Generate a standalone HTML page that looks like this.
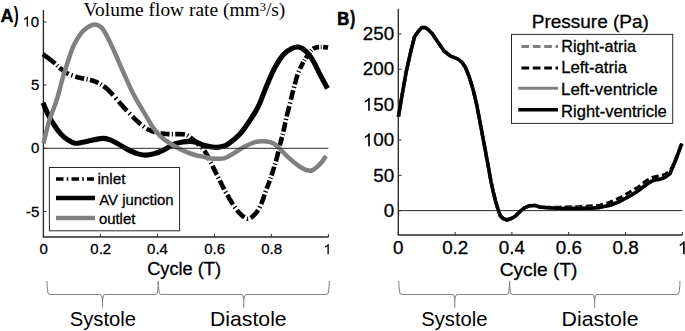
<!DOCTYPE html>
<html><head><meta charset="utf-8">
<style>
html,body{margin:0;padding:0;background:#fff;}
body{width:685px;height:331px;overflow:hidden;font-family:"Liberation Sans",sans-serif;}
svg{display:block;}
</style></head>
<body>
<svg width="685" height="331" viewBox="0 0 685 331">
<rect width="685" height="331" fill="#fff"/>
<path d="M43.4,10 V237 H328.6" fill="none" stroke="#2a2a2a" stroke-width="1.35"/>
<path d="M43.4,22.0 H46.5" stroke="#2a2a2a" stroke-width="1"/>
<path d="M43.4,85.0 H46.5" stroke="#2a2a2a" stroke-width="1"/>
<path d="M43.4,148.3 H46.5" stroke="#2a2a2a" stroke-width="1"/>
<path d="M43.4,211.5 H46.5" stroke="#2a2a2a" stroke-width="1"/>
<path d="M43.4,237 V234" stroke="#2a2a2a" stroke-width="1"/>
<path d="M100.4,237 V234" stroke="#2a2a2a" stroke-width="1"/>
<path d="M157.4,237 V234" stroke="#2a2a2a" stroke-width="1"/>
<path d="M214.4,237 V234" stroke="#2a2a2a" stroke-width="1"/>
<path d="M271.4,237 V234" stroke="#2a2a2a" stroke-width="1"/>
<path d="M328.4,237 V234" stroke="#2a2a2a" stroke-width="1"/>
<path d="M43.00,54.20 L43.42,54.51 L43.87,54.85 L44.33,55.19 L44.76,55.52 L45.23,55.86 L45.64,56.16 L46.06,56.48 L46.50,56.80 L46.95,57.13 L47.41,57.48 L47.87,57.82 L48.34,58.17 L48.81,58.53 L49.28,58.88 L49.75,59.24 L50.21,59.59 L50.67,59.94 L51.11,60.28 L51.55,60.61 L51.96,60.93 L52.36,61.25 L52.81,61.61 L53.23,61.95 L53.67,62.31 L54.11,62.68 L54.54,63.05 L54.94,63.42 L55.18,63.63 M56.90,65.26 L57.32,65.68 L57.72,66.06 M59.47,67.66 L59.92,68.04 L60.32,68.36 L60.71,68.68 L61.11,69.00 L61.50,69.32 L61.90,69.64 L62.30,69.95 L62.70,70.27 L63.11,70.58 L63.51,70.88 L63.92,71.18 L64.33,71.48 L64.74,71.77 L65.16,72.05 L65.58,72.33 L66.00,72.59 L66.51,72.91 L67.03,73.20 L67.47,73.44 L67.92,73.68 L68.39,73.90 L68.65,74.03 M71.26,75.10 L71.80,75.29 L72.28,75.47 L72.55,75.56 M75.22,76.47 L75.75,76.65 L76.23,76.81 L76.73,76.97 L77.25,77.12 L77.75,77.26 L78.30,77.40 L78.85,77.53 L79.39,77.66 L79.90,77.78 L80.48,77.92 L81.01,78.05 L81.54,78.17 L82.10,78.29 L82.62,78.40 L83.16,78.51 L83.72,78.62 L84.22,78.72 M86.52,79.17 L87.11,79.28 L87.63,79.39 M89.91,79.90 L90.44,80.03 L90.97,80.16 L91.49,80.30 L92.01,80.44 L92.51,80.59 L93.00,80.74 L93.48,80.90 L94.03,81.10 L94.59,81.31 L95.08,81.51 L95.55,81.71 L96.03,81.92 L96.50,82.13 L96.97,82.35 L97.43,82.57 L97.89,82.80 L98.34,83.04 L98.48,83.11 M100.50,84.25 L100.97,84.53 L101.45,84.83 M103.38,86.10 L103.87,86.44 L104.34,86.77 L104.81,87.11 L105.28,87.46 L105.70,87.78 L106.11,88.10 L106.52,88.44 L106.92,88.78 L107.32,89.13 L107.72,89.49 L108.11,89.85 L108.50,90.22 L108.89,90.59 L109.27,90.96 L109.64,91.33 L110.01,91.70 L110.37,92.08 L110.73,92.44 L111.07,92.81 L111.48,93.24 L111.88,93.67 L112.27,94.09 L112.65,94.49 L113.02,94.88 L113.28,95.16 M115.51,97.71 L115.85,98.16 L116.16,98.56 L116.48,98.98 L116.51,99.01 M118.67,101.62 L119.04,102.05 L119.38,102.43 L119.71,102.82 L120.06,103.22 L120.41,103.62 L120.78,104.04 L121.15,104.46 L121.53,104.89 L121.92,105.33 L122.32,105.77 L122.66,106.15 L123.00,106.54 L123.36,106.93 L123.72,107.33 L124.09,107.73 L124.47,108.14 L124.85,108.55 L125.25,108.97 L125.65,109.40 L126.06,109.83 L126.48,110.27 L126.91,110.71 L127.01,110.81 M129.19,113.06 L129.58,113.46 L129.93,113.82 L130.25,114.15 M132.43,116.38 L132.81,116.77 L133.19,117.15 L133.58,117.54 L133.96,117.92 L134.34,118.31 L134.73,118.69 L135.11,119.07 L135.50,119.44 L135.88,119.82 L136.26,120.18 L136.64,120.55 L137.01,120.91 L137.39,121.26 L137.76,121.61 L138.19,122.01 L138.63,122.41 L139.05,122.79 L139.47,123.17 L139.88,123.52 L140.28,123.87 L140.67,124.19 L140.86,124.35 M143.15,126.17 L143.58,126.50 L144.00,126.80 L144.29,127.01 M146.73,128.63 L147.21,128.91 L147.69,129.18 L148.18,129.44 L148.67,129.70 L149.17,129.95 L149.69,130.19 L150.21,130.43 L150.76,130.66 L151.22,130.85 L151.69,131.03 L152.22,131.24 L152.75,131.43 L153.29,131.61 L153.84,131.79 L154.39,131.95 L154.95,132.11 L154.99,132.12 M157.19,132.67 L157.71,132.78 L158.27,132.89 M160.50,133.29 L161.01,133.37 L161.52,133.44 L162.03,133.52 L162.55,133.59 L163.08,133.65 L163.60,133.72 L164.13,133.78 L164.66,133.84 L165.20,133.90 L165.76,133.95 L166.34,134.00 L166.94,134.04 L167.45,134.07 L167.97,134.10 L168.50,134.12 L169.04,134.13 L169.53,134.15 M171.82,134.17 L172.36,134.17 L172.91,134.17 L172.93,134.17 M175.22,134.16 L175.76,134.15 L176.28,134.15 L176.80,134.14 L177.31,134.14 L177.90,134.14 L178.48,134.14 L179.03,134.14 L179.57,134.14 L180.08,134.15 L180.63,134.16 L181.15,134.18 L181.69,134.21 L182.23,134.24 L182.86,134.28 L183.40,134.32 L183.98,134.37 L184.55,134.43 L184.92,134.49 M187.23,135.30 L187.67,135.53 L188.16,135.82 L188.26,135.88 M190.22,137.34 L190.63,137.68 L191.04,138.02 L191.47,138.37 L191.91,138.73 L192.35,139.08 L192.78,139.42 L193.21,139.77 L193.64,140.13 L194.09,140.49 L194.53,140.87 L194.99,141.25 L195.37,141.58 L195.76,141.92 L196.15,142.27 L196.54,142.63 L196.94,142.99 L197.35,143.37 L197.75,143.76 L198.13,144.12 L198.52,144.50 L198.91,144.87 L199.21,145.14 M201.38,147.20 L201.81,147.63 L202.16,147.99 L202.40,148.24 M204.32,150.54 L204.66,151.01 L205.00,151.50 L205.28,151.93 L205.57,152.38 L205.85,152.84 L206.13,153.32 L206.41,153.81 L206.69,154.31 L206.97,154.82 L207.25,155.34 L207.53,155.87 L207.76,156.32 L207.99,156.78 L208.22,157.24 L208.45,157.70 L208.69,158.16 L208.92,158.63 L209.15,159.11 L209.38,159.58 L209.50,159.83 M210.67,162.24 L210.91,162.71 L211.14,163.18 L211.25,163.40 M212.46,165.80 L212.68,166.25 L212.91,166.70 L213.13,167.15 L213.36,167.60 L213.59,168.05 L213.81,168.51 L214.04,168.97 L214.26,169.42 L214.49,169.88 L214.72,170.34 L214.94,170.80 L215.17,171.26 L215.40,171.72 L215.62,172.18 L215.85,172.64 L216.07,173.09 L216.30,173.55 L216.52,174.00 L216.74,174.46 L216.94,174.86 M218.07,177.14 L218.33,177.65 L218.59,178.19 L218.62,178.24 M219.75,180.53 L219.98,180.99 L220.21,181.45 L220.44,181.91 L220.66,182.37 L220.89,182.83 L221.11,183.29 L221.34,183.74 L221.56,184.19 L221.79,184.64 L222.01,185.09 L222.23,185.54 L222.50,186.08 L222.77,186.61 L223.04,187.14 L223.31,187.66 L223.58,188.18 L223.85,188.70 L224.12,189.22 L224.24,189.46 M225.44,191.67 L225.70,192.15 L225.95,192.61 L226.03,192.74 M227.27,194.93 L227.52,195.37 L227.77,195.81 L228.03,196.24 L228.28,196.68 L228.58,197.19 L228.89,197.70 L229.19,198.21 L229.49,198.72 L229.79,199.22 L230.10,199.71 L230.40,200.21 L230.70,200.69 L231.00,201.18 L231.31,201.68 L231.60,202.14 L231.88,202.59 L232.17,203.04 L232.46,203.50 L232.75,203.95 L233.04,204.40 L233.04,204.40 M234.58,206.74 L234.88,207.18 L235.16,207.60 L235.34,207.86 M236.97,210.12 L237.29,210.54 L237.65,210.99 L238.03,211.46 L238.41,211.90 L238.78,212.32 L239.14,212.73 L239.50,213.11 L239.85,213.48 L240.27,213.90 L240.69,214.29 L241.10,214.67 L241.51,215.04 L241.92,215.38 L242.32,215.72 L242.73,216.05 L243.16,216.38 L243.61,216.73 L244.06,217.07 L244.50,217.39 L244.54,217.42 M246.89,218.65 L247.45,218.77 L247.98,218.81 L248.16,218.80 M250.64,217.92 L251.09,217.62 L251.54,217.29 L252.01,216.93 L252.43,216.60 L252.81,216.27 L253.21,215.92 L253.62,215.54 L254.03,215.13 L254.45,214.71 L254.79,214.34 L255.14,213.96 L255.49,213.56 L255.84,213.16 L256.18,212.74 L256.51,212.31 L256.84,211.88 L257.16,211.43 L257.48,210.98 L257.80,210.50 L258.05,210.11 M259.41,207.74 L259.66,207.26 L259.93,206.73 L260.01,206.57 M261.15,204.08 L261.37,203.58 L261.59,203.05 L261.81,202.52 L262.03,201.97 L262.23,201.47 L262.43,200.95 L262.62,200.41 L262.82,199.86 L263.01,199.30 L263.18,198.82 L263.34,198.34 L263.50,197.85 L263.67,197.35 L263.83,196.86 L263.99,196.36 L264.15,195.85 L264.31,195.35 L264.48,194.85 L264.57,194.57 M265.36,192.15 L265.55,191.59 L265.71,191.11 L265.76,190.98 M266.63,188.58 L266.83,188.05 L267.03,187.53 L267.24,187.03 L267.44,186.53 L267.64,186.03 L267.84,185.53 L268.04,185.03 L268.25,184.52 L268.46,184.00 L268.67,183.47 L268.88,182.92 L269.07,182.44 L269.25,181.94 L269.44,181.43 L269.64,180.89 L269.74,180.61 M270.45,178.57 L270.62,178.06 L270.78,177.58 M271.45,175.53 L271.64,174.97 L271.82,174.40 L271.98,173.92 L272.14,173.44 L272.30,172.94 L272.46,172.45 L272.62,171.94 L272.78,171.44 L272.94,170.93 L273.10,170.42 L273.27,169.91 L273.43,169.39 L273.59,168.88 L273.75,168.36 L273.91,167.85 L274.07,167.33 L274.23,166.82 L274.24,166.77 M274.92,164.56 L275.09,164.01 L275.23,163.52 L275.24,163.48 M275.90,161.26 L276.05,160.72 L276.20,160.20 L276.35,159.66 L276.50,159.12 L276.65,158.59 L276.79,158.06 L276.92,157.54 L277.06,157.02 L277.19,156.51 L277.32,156.00 L277.44,155.50 L277.56,155.00 L277.68,154.51 L277.80,154.02 L277.92,153.53 L278.05,152.95 L278.19,152.37 L278.32,151.80 L278.39,151.51 M278.96,149.04 L279.08,148.52 L279.21,147.96 L279.24,147.84 M279.83,145.38 L279.98,144.79 L280.11,144.28 L280.24,143.78 L280.36,143.27 L280.49,142.77 L280.62,142.28 L280.75,141.78 L280.88,141.29 L281.01,140.80 L281.14,140.31 L281.27,139.82 L281.40,139.33 L281.53,138.85 L281.68,138.27 L281.83,137.69 L281.98,137.12 L282.01,137.03 M282.56,134.92 L282.70,134.35 L282.81,133.90 M283.33,131.79 L283.47,131.20 L283.58,130.70 L283.70,130.21 L283.83,129.63 L283.95,129.05 L284.07,128.48 L284.19,127.91 L284.31,127.34 L284.43,126.78 L284.54,126.21 L284.66,125.65 L284.77,125.08 L284.89,124.51 L285.00,123.93 L285.12,123.35 L285.24,122.76 L285.33,122.33 M285.85,119.95 L285.97,119.38 L286.10,118.84 L286.11,118.80 M286.67,116.43 L286.80,115.87 L286.94,115.31 L287.08,114.74 L287.22,114.17 L287.37,113.59 L287.51,113.01 L287.63,112.52 L287.76,112.03 L287.88,111.54 L288.01,111.05 L288.13,110.55 L288.26,110.05 L288.38,109.55 L288.51,109.05 L288.64,108.55 L288.77,108.05 L288.89,107.55 L289.02,107.05 L289.15,106.55 L289.25,106.16 M289.90,103.58 L290.03,103.07 L290.15,102.58 L290.22,102.33 M290.86,99.74 L290.98,99.25 L291.11,98.75 L291.23,98.25 L291.35,97.76 L291.47,97.26 L291.59,96.76 L291.72,96.26 L291.84,95.76 L291.96,95.26 L292.08,94.77 L292.20,94.27 L292.33,93.77 L292.45,93.28 L292.57,92.79 L292.69,92.30 L292.81,91.81 L292.94,91.32 L293.06,90.83 L293.20,90.26 M293.82,87.87 L293.96,87.33 L294.11,86.78 L294.12,86.72 M294.77,84.34 L294.91,83.83 L295.05,83.31 L295.19,82.80 L295.33,82.30 L295.46,81.79 L295.60,81.29 L295.74,80.80 L295.87,80.30 L296.01,79.81 L296.15,79.33 L296.29,78.84 L296.45,78.27 L296.62,77.70 L296.79,77.13 L296.96,76.57 L297.13,76.02 L297.31,75.47 L297.49,74.92 L297.60,74.60 M298.47,72.19 L298.66,71.69 L298.87,71.19 L298.93,71.04 M299.97,68.71 L300.21,68.22 L300.44,67.74 L300.68,67.27 L300.91,66.80 L301.15,66.34 L301.39,65.88 L301.63,65.43 L301.87,64.99 L302.15,64.46 L302.43,63.95 L302.70,63.45 L302.97,62.97 L303.24,62.49 L303.39,62.22 M304.29,60.60 L304.58,60.12 L304.75,59.83 M305.74,58.27 L306.04,57.81 L306.36,57.34 L306.67,56.89 L306.98,56.45 L307.29,56.01 L307.59,55.58 L307.90,55.15 L308.19,54.72 L308.51,54.25 L308.82,53.80 L309.13,53.35 L309.43,52.92 L309.73,52.50 L309.91,52.24 M311.06,50.78 L311.44,50.36 L311.67,50.13 M313.04,48.89 L313.51,48.56 L314.00,48.27 L314.52,48.00 L315.00,47.80 L315.53,47.62 L316.10,47.47 L316.59,47.36 L317.10,47.28 L317.61,47.20 L318.14,47.14 L318.66,47.09 L319.11,47.06 M320.74,46.97 L321.24,46.97 L321.52,46.97 M323.14,47.04 L323.65,47.08 L324.22,47.13 L324.75,47.18 L325.26,47.23 L325.78,47.30 L326.37,47.42 L326.92,47.54 L327.47,47.67 L328.00,47.80" fill="none" stroke="#000" stroke-width="4.6" stroke-linejoin="round" stroke-linecap="butt"/>
<path d="M43.0,102.7 C43.9,104.8 46.5,111.5 48.5,115.4 C50.5,119.3 52.7,122.8 54.8,126.0 C56.9,129.2 59.1,132.1 61.2,134.4 C63.3,136.7 65.2,138.2 67.5,139.7 C69.8,141.2 72.4,142.8 74.9,143.2 C77.4,143.6 79.7,142.8 82.3,142.3 C84.9,141.9 87.5,141.2 90.8,140.5 C94.1,139.8 99.2,138.5 102.3,138.4 C105.4,138.3 107.2,138.9 109.6,139.7 C112.0,140.5 114.5,142.0 116.9,143.3 C119.3,144.6 121.8,146.2 124.2,147.5 C126.6,148.8 129.1,150.3 131.5,151.4 C133.9,152.5 136.4,153.5 138.8,154.1 C141.2,154.7 143.7,155.1 146.1,155.1 C148.5,155.1 151.0,154.5 153.4,153.9 C155.8,153.3 158.3,152.5 160.7,151.4 C163.1,150.3 165.6,148.9 168.0,147.6 C170.4,146.3 172.9,144.6 175.3,143.7 C177.7,142.8 180.2,142.3 182.6,141.9 C185.0,141.5 187.7,141.4 189.9,141.4 C192.1,141.4 193.7,141.6 196.0,142.2 C198.3,142.8 200.9,144.4 203.6,145.2 C206.3,146.0 209.7,146.6 212.0,147.0 C214.3,147.4 215.4,147.5 217.2,147.4 C219.0,147.3 221.2,146.8 223.0,146.3 C224.8,145.8 225.2,146.2 228.0,144.2 C230.8,142.2 236.2,137.9 239.5,134.5 C242.8,131.1 245.1,127.4 247.8,123.6 C250.5,119.8 253.5,115.0 255.6,111.4 C257.7,107.8 258.4,106.5 260.3,102.0 C262.2,97.5 264.7,90.3 267.2,84.4 C269.7,78.5 272.6,71.7 275.3,66.7 C278.0,61.7 280.8,57.5 283.5,54.5 C286.2,51.5 289.2,49.7 291.7,48.5 C294.2,47.3 296.0,46.6 298.5,47.1 C301.0,47.6 304.1,49.4 306.6,51.8 C309.1,54.2 311.1,57.4 313.4,61.3 C315.7,65.2 317.8,70.4 320.2,74.9 C322.6,79.4 326.3,86.2 327.5,88.5" fill="none" stroke="#000" stroke-width="5.1" stroke-linejoin="round" stroke-linecap="butt"/>
<path d="M43.5,143.5 C44.4,139.9 47.2,127.5 48.9,121.7 C50.6,116.0 52.0,113.2 53.5,109.0 C55.0,104.8 56.3,101.5 57.8,96.3 C59.3,91.1 61.0,84.0 62.7,78.0 C64.5,72.0 66.5,65.8 68.3,60.3 C70.1,54.8 71.7,49.8 73.8,45.3 C75.9,40.8 78.5,36.6 80.8,33.6 C83.1,30.6 85.2,28.8 87.5,27.3 C89.8,25.8 92.5,24.3 94.8,24.4 C97.1,24.4 99.4,25.5 101.5,27.6 C103.6,29.7 105.4,33.3 107.5,37.2 C109.6,41.1 111.8,45.8 114.0,50.8 C116.2,55.8 118.6,61.6 121.0,67.0 C123.4,72.4 126.0,78.4 128.3,83.4 C130.6,88.4 132.0,91.7 135.0,97.2 C138.0,102.7 143.2,111.2 146.2,116.2 C149.2,121.2 150.6,124.1 153.0,127.5 C155.4,130.9 157.7,133.8 160.7,136.6 C163.7,139.3 167.2,141.7 170.9,144.0 C174.6,146.3 178.6,148.6 182.6,150.4 C186.6,152.2 191.4,153.9 195.0,155.0 C198.6,156.1 201.2,156.3 204.0,156.9 C206.8,157.5 208.4,158.2 211.7,158.4 C215.0,158.7 220.4,159.2 224.0,158.4 C227.6,157.6 230.1,155.4 233.5,153.5 C236.9,151.6 240.7,148.6 244.3,146.7 C247.9,144.8 252.0,143.0 255.2,142.1 C258.4,141.2 260.9,141.3 263.4,141.3 C265.9,141.3 267.9,141.5 270.0,142.1 C272.1,142.7 274.0,143.6 276.0,145.1 C278.0,146.6 280.1,149.2 282.1,151.2 C284.1,153.2 286.1,155.3 288.1,157.2 C290.1,159.1 292.2,160.9 294.2,162.5 C296.2,164.1 298.2,165.8 300.2,167.0 C302.2,168.2 304.4,169.4 306.3,170.0 C308.2,170.6 309.9,171.0 311.6,170.5 C313.4,170.0 315.2,168.3 316.8,167.0 C318.4,165.7 319.9,164.3 321.4,162.5 C322.9,160.7 325.2,157.1 326.0,156.0" fill="none" stroke="#808080" stroke-width="4.5" stroke-linejoin="round" stroke-linecap="butt"/>
<path d="M43.4,148.3 H328.4" fill="none" stroke="#2a2a2a" stroke-width="1"/>
<rect x="49.4" y="167.5" width="130.2" height="63.3" fill="#fff" stroke="#2a2a2a" stroke-width="1"/>
<path d="M56,179 H94" stroke="#000" stroke-width="3.5" stroke-dasharray="7.5 3.2 1.6 3.2"/>
<path d="M56,198 H95" stroke="#000" stroke-width="4.4"/>
<path d="M56,218 H95" stroke="#808080" stroke-width="4.4"/>
<path d="M47.00,281.00 C47.00,287.00 47.60,290.40 47.90,292.60 Q48.50,294.40 50.00,294.40 M50.00,294.40 L100.10,294.40 Q102.00,294.40 102.50,300.90 L102.50,307.80 M158.30,281.00 C158.30,287.00 157.70,290.40 157.40,292.60 Q156.80,294.40 155.30,294.40 M155.30,294.40 L104.90,294.40 Q103.00,294.40 102.50,300.90 L102.50,307.80" fill="none" stroke="#858585" stroke-width="1.05"/>
<path d="M158.30,281.00 C158.30,287.00 158.90,290.40 159.20,292.60 Q159.80,294.40 161.30,294.40 M161.30,294.40 L241.40,294.40 Q243.30,294.40 243.80,300.90 L243.80,307.80 M329.30,281.00 C329.30,287.00 328.70,290.40 328.40,292.60 Q327.80,294.40 326.30,294.40 M326.30,294.40 L246.20,294.40 Q244.30,294.40 243.80,300.90 L243.80,307.80" fill="none" stroke="#858585" stroke-width="1.05"/>
<path d="M398.3,8.8 V235 H682.5" fill="none" stroke="#2a2a2a" stroke-width="1.35"/>
<path d="M398.3,210.6 H682.5" fill="none" stroke="#2a2a2a" stroke-width="1"/>
<path d="M398.3,210.7 H401.5" stroke="#2a2a2a" stroke-width="1"/>
<path d="M398.3,175.3 H401.5" stroke="#2a2a2a" stroke-width="1"/>
<path d="M398.3,140.0 H401.5" stroke="#2a2a2a" stroke-width="1"/>
<path d="M398.3,104.6 H401.5" stroke="#2a2a2a" stroke-width="1"/>
<path d="M398.3,69.3 H401.5" stroke="#2a2a2a" stroke-width="1"/>
<path d="M398.3,33.9 H401.5" stroke="#2a2a2a" stroke-width="1"/>
<path d="M398.3,235 V232" stroke="#2a2a2a" stroke-width="1"/>
<path d="M455.1,235 V232" stroke="#2a2a2a" stroke-width="1"/>
<path d="M511.9,235 V232" stroke="#2a2a2a" stroke-width="1"/>
<path d="M568.7,235 V232" stroke="#2a2a2a" stroke-width="1"/>
<path d="M625.5,235 V232" stroke="#2a2a2a" stroke-width="1"/>
<path d="M682.3,235 V232" stroke="#2a2a2a" stroke-width="1"/>
<path d="M398.4,116.7 L402.0,95.5 L406.6,69.8 L411.1,50.2 L414.6,36.5 L418.5,31.2 L421.6,27.6 L425.0,27.6 L428.0,29.4 L432.3,33.8 L438.3,42.7 L441.0,46.5 L444.3,51.2 L450.4,56.0 L457.9,59.0 L462.0,62.3 L465.5,67.5 L469.3,77.0 L473.2,90.0 L476.8,105.1 L480.5,124.7 L484.2,144.4 L488.1,165.5 L491.0,181.5 L493.3,192.1 L495.6,201.2 L497.8,208.7 L500.1,215.5 L503.1,218.5 L506.9,220.0 L511.4,218.5 L515.2,216.3 L519.8,211.7 L524.3,208.0 L529.6,205.7 L534.9,205.4 L539.4,206.9 L545.0,207.5 L560.0,208.6 L580.0,208.2 L590.0,208.3 L600.0,207.4 L610.0,205.3 L620.0,201.3 L629.0,196.5 L638.0,190.9 L647.0,184.0 L652.0,181.0 L656.0,179.7 L660.0,179.2 L665.0,177.3 L670.0,173.5 L673.0,166.5 L677.0,156.5 L680.0,148.3 L681.8,143.5" fill="none" stroke="#808080" stroke-width="3.2" stroke-dasharray="7 3.5" stroke-linejoin="round"/>
<path d="M398.4,116.7 L402.0,95.5 L406.6,69.8 L411.1,50.2 L414.6,36.5 L418.5,31.2 L421.6,27.6 L425.0,27.6 L428.0,29.4 L432.3,33.8 L438.3,42.7 L441.0,46.5 L444.3,51.2 L450.4,56.0 L457.9,59.0 L462.0,62.3 L465.5,67.5 L469.3,77.0 L473.2,90.0 L476.8,105.1 L480.5,124.7 L484.2,144.4 L488.1,165.5 L491.0,181.5 L493.3,192.1 L495.6,201.2 L497.8,208.7 L500.1,215.5 L503.1,218.5 L506.9,220.0 L511.4,218.5 L515.2,216.3 L519.8,211.7 L524.3,208.0 L529.6,205.7 L534.9,205.4 L539.4,206.9 L545.0,207.3 L560.0,207.2 L580.0,206.6 L600.0,205.3 L610.0,202.3 L620.0,197.8 L629.0,192.6 L638.0,187.4 L647.0,180.3 L652.0,177.6 L656.0,176.6 L660.0,176.0 L665.0,174.6 L670.0,171.0 L673.0,165.5 L677.0,156.0 L680.0,148.0 L681.8,143.5" fill="none" stroke="#000" stroke-width="3.2" stroke-dasharray="7 3.5" stroke-linejoin="round"/>
<path d="M398.4,116.7 L402.0,95.5 L406.6,69.8 L411.1,50.2 L414.6,36.5 L418.5,31.2 L421.6,27.6 L425.0,27.6 L428.0,29.4 L432.3,33.8 L438.3,42.7 L441.0,46.5 L444.3,51.2 L450.4,56.0 L457.9,59.0 L462.0,62.3 L465.5,67.5 L469.3,77.0 L473.2,90.0 L476.8,105.1 L480.5,124.7 L484.2,144.4 L488.1,165.5 L491.0,181.5 L493.3,192.1 L495.6,201.2 L497.8,208.7 L500.1,215.5 L503.1,218.5 L506.9,220.0 L511.4,218.5 L515.2,216.3 L519.8,211.7 L524.3,208.0 L529.6,205.7 L534.9,205.4 L539.4,206.9 L545.0,207.5 L560.0,208.6 L580.0,208.2 L590.0,208.3 L600.0,207.4 L610.0,205.3 L620.0,201.3 L629.0,196.5 L638.0,190.9 L647.0,184.0 L652.0,181.0 L656.0,179.7 L660.0,179.2 L665.0,177.3 L670.0,173.5 L673.0,166.5 L677.0,156.5 L680.0,148.3 L681.8,143.5" fill="none" stroke="#808080" stroke-width="3.5" stroke-linejoin="round" stroke-linecap="butt"/>
<path d="M398.4,116.7 L402.0,95.5 L406.6,69.8 L411.1,50.2 L414.6,36.5 L418.5,31.2 L421.6,27.6 L425.0,27.6 L428.0,29.4 L432.3,33.8 L438.3,42.7 L441.0,46.5 L444.3,51.2 L450.4,56.0 L457.9,59.0 L462.0,62.3 L465.5,67.5 L469.3,77.0 L473.2,90.0 L476.8,105.1 L480.5,124.7 L484.2,144.4 L488.1,165.5 L491.0,181.5 L493.3,192.1 L495.6,201.2 L497.8,208.7 L500.1,215.5 L503.1,218.5 L506.9,220.0 L511.4,218.5 L515.2,216.3 L519.8,211.7 L524.3,208.0 L529.6,205.7 L534.9,205.4 L539.4,206.9 L545.0,207.5 L560.0,208.6 L580.0,208.2 L590.0,208.3 L600.0,207.4 L610.0,205.3 L620.0,201.3 L629.0,196.5 L638.0,190.9 L647.0,184.0 L652.0,181.0 L656.0,179.7 L660.0,179.2 L665.0,177.3 L670.0,173.5 L673.0,166.5 L677.0,156.5 L680.0,148.3 L681.8,143.5" fill="none" stroke="#000" stroke-width="3.5" stroke-linejoin="round" stroke-linecap="butt"/>
<rect x="511.5" y="34.4" width="161.2" height="89" fill="#fff" stroke="#2a2a2a" stroke-width="1"/>
<path d="M521.4,46.6 H558" stroke="#808080" stroke-width="3" stroke-dasharray="7.7 3.7"/>
<path d="M521.4,68 H558" stroke="#000" stroke-width="3.2" stroke-dasharray="7.7 3.7"/>
<path d="M518.3,88.3 H558" stroke="#808080" stroke-width="3"/>
<path d="M518.3,109.7 H558" stroke="#000" stroke-width="3.4"/>
<path d="M398.80,281.00 C398.80,287.00 399.40,290.40 399.70,292.60 Q400.30,294.40 401.80,294.40 M401.80,294.40 L452.40,294.40 Q454.30,294.40 454.80,300.90 L454.80,307.80 M509.60,281.00 C509.60,287.00 509.00,290.40 508.70,292.60 Q508.10,294.40 506.60,294.40 M506.60,294.40 L457.20,294.40 Q455.30,294.40 454.80,300.90 L454.80,307.80" fill="none" stroke="#858585" stroke-width="1.05"/>
<path d="M509.60,281.00 C509.60,287.00 510.20,290.40 510.50,292.60 Q511.10,294.40 512.60,294.40 M512.60,294.40 L592.20,294.40 Q594.10,294.40 594.60,300.90 L594.60,307.80 M680.00,281.00 C680.00,287.00 679.40,290.40 679.10,292.60 Q678.50,294.40 677.00,294.40 M677.00,294.40 L597.00,294.40 Q595.10,294.40 594.60,300.90 L594.60,307.80" fill="none" stroke="#858585" stroke-width="1.05"/>
<text x="0" y="0" font-family="Liberation Sans" font-size="18.70" font-weight="bold" stroke="#000" stroke-width="0.3" transform="translate(0.557,22.345) scale(0.9656,1.0152)">A</text>
<text x="0" y="0" font-family="Liberation Sans" font-size="18.70" font-weight="bold"  transform="translate(13.850,22.276) scale(0.8000,1.1317)">)</text>
<text x="0" y="0" font-family="Liberation Serif" font-size="18.80" font-weight="normal"  transform="translate(83.541,15.800) scale(1.0340,1.0076)">Volume flow rate (mm<tspan font-size="12" dy="-4.8">3</tspan><tspan dy="4.8">/s)</tspan></text>
<text x="0" y="0" font-family="Liberation Sans" font-size="15.00" font-weight="normal" stroke="#000" stroke-width="0.3" transform="translate(22.400,26.550) scale(1.0000,1.0000)">&#x2007;0</text>
<path transform="translate(22.40,26.55) scale(0.00732,-0.00732)" d="M763,0 L583,0 L583,1102 C540,1063 483,1022 413,983 C343,944 280,914 225,894 L225,1061 C326,1106 414,1161 489,1224 C564,1288 618,1349 649,1409 L763,1409 Z" fill="#000"/>
<text x="0" y="0" font-family="Liberation Sans" font-size="15.00" font-weight="normal" stroke="#000" stroke-width="0.3" transform="translate(30.900,90.325) scale(1.0000,1.0000)">5</text>
<text x="0" y="0" font-family="Liberation Sans" font-size="15.00" font-weight="normal" stroke="#000" stroke-width="0.3" transform="translate(30.900,153.050) scale(1.0000,1.0000)">0</text>
<text x="0" y="0" font-family="Liberation Sans" font-size="15.00" font-weight="normal" stroke="#000" stroke-width="0.3" transform="translate(25.900,216.525) scale(1.0000,1.0000)">-5</text>
<text x="0" y="0" font-family="Liberation Sans" font-size="15.00" font-weight="normal" stroke="#000" stroke-width="0.3" transform="translate(39.475,254.200) scale(1.0000,1.0000)">0</text>
<text x="0" y="0" font-family="Liberation Sans" font-size="15.00" font-weight="normal" stroke="#000" stroke-width="0.3" transform="translate(90.350,254.200) scale(1.0000,1.0000)">0.2</text>
<text x="0" y="0" font-family="Liberation Sans" font-size="15.00" font-weight="normal" stroke="#000" stroke-width="0.3" transform="translate(147.100,254.200) scale(1.0000,1.0000)">0.4</text>
<text x="0" y="0" font-family="Liberation Sans" font-size="15.00" font-weight="normal" stroke="#000" stroke-width="0.3" transform="translate(204.225,254.200) scale(1.0000,1.0000)">0.6</text>
<text x="0" y="0" font-family="Liberation Sans" font-size="15.00" font-weight="normal" stroke="#000" stroke-width="0.3" transform="translate(261.225,254.200) scale(1.0000,1.0000)">0.8</text>
<path transform="translate(323.20,254.20) scale(0.00732,-0.00732)" d="M763,0 L583,0 L583,1102 C540,1063 483,1022 413,983 C343,944 280,914 225,894 L225,1061 C326,1106 414,1161 489,1224 C564,1288 618,1349 649,1409 L763,1409 Z" fill="#000"/>
<text x="0" y="0" font-family="Liberation Sans" font-size="18.00" font-weight="normal" stroke="#000" stroke-width="0.3" transform="translate(147.140,274.867) scale(1.0126,1.0126)">Cycle (T)</text>
<text x="0" y="0" font-family="Liberation Sans" font-size="15.00" font-weight="normal" stroke="#000" stroke-width="0.3" transform="translate(97.380,183.900) scale(1.0262,1.0262)">inlet</text>
<text x="0" y="0" font-family="Liberation Sans" font-size="15.00" font-weight="normal" stroke="#000" stroke-width="0.3" transform="translate(99.249,204.500) scale(0.9946,0.9946)">AV junction</text>
<text x="0" y="0" font-family="Liberation Sans" font-size="15.00" font-weight="normal" stroke="#000" stroke-width="0.3" transform="translate(98.954,224.200) scale(0.9917,0.9917)">outlet</text>
<text x="0" y="0" font-family="Liberation Sans" font-size="19.50" font-weight="normal"  transform="translate(69.713,325.600) scale(1.0370,1.0596)">Systole</text>
<text x="0" y="0" font-family="Liberation Sans" font-size="19.50" font-weight="normal"  transform="translate(210.069,325.600) scale(1.0872,1.0596)">Diastole</text>
<text x="0" y="0" font-family="Liberation Sans" font-size="17.50" font-weight="bold" stroke="#000" stroke-width="0.7" transform="translate(337.239,24.516) scale(0.9479,1.0693)">B</text>
<text x="0" y="0" font-family="Liberation Sans" font-size="17.50" font-weight="bold" stroke="#000" stroke-width="0.5" transform="translate(350.206,24.772) scale(0.8500,1.1442)">)</text>
<text x="0" y="0" font-family="Liberation Sans" font-size="18.80" font-weight="normal" stroke="#000" stroke-width="0.3" transform="translate(383.800,216.950) scale(1.0000,1.0000)">0</text>
<text x="0" y="0" font-family="Liberation Sans" font-size="18.80" font-weight="normal" stroke="#000" stroke-width="0.3" transform="translate(373.300,181.620) scale(1.0000,1.0000)">50</text>
<text x="0" y="0" font-family="Liberation Sans" font-size="18.80" font-weight="normal" stroke="#000" stroke-width="0.3" transform="translate(362.800,146.290) scale(1.0000,1.0000)">&#x2007;00</text>
<path transform="translate(362.80,146.29) scale(0.00918,-0.00918)" d="M763,0 L583,0 L583,1102 C540,1063 483,1022 413,983 C343,944 280,914 225,894 L225,1061 C326,1106 414,1161 489,1224 C564,1288 618,1349 649,1409 L763,1409 Z" fill="#000"/>
<text x="0" y="0" font-family="Liberation Sans" font-size="18.80" font-weight="normal" stroke="#000" stroke-width="0.3" transform="translate(362.800,110.710) scale(1.0000,1.0000)">&#x2007;50</text>
<path transform="translate(362.80,110.71) scale(0.00918,-0.00918)" d="M763,0 L583,0 L583,1102 C540,1063 483,1022 413,983 C343,944 280,914 225,894 L225,1061 C326,1106 414,1161 489,1224 C564,1288 618,1349 649,1409 L763,1409 Z" fill="#000"/>
<text x="0" y="0" font-family="Liberation Sans" font-size="18.80" font-weight="normal" stroke="#000" stroke-width="0.3" transform="translate(362.800,75.380) scale(1.0000,1.0000)">200</text>
<text x="0" y="0" font-family="Liberation Sans" font-size="18.80" font-weight="normal" stroke="#000" stroke-width="0.3" transform="translate(362.800,40.050) scale(1.0000,1.0000)">250</text>
<text x="0" y="0" font-family="Liberation Sans" font-size="18.80" font-weight="normal" stroke="#000" stroke-width="0.3" transform="translate(393.025,254.200) scale(1.0000,1.0000)">0</text>
<text x="0" y="0" font-family="Liberation Sans" font-size="18.80" font-weight="normal" stroke="#000" stroke-width="0.3" transform="translate(442.175,254.200) scale(1.0000,1.0000)">0.2</text>
<text x="0" y="0" font-family="Liberation Sans" font-size="18.80" font-weight="normal" stroke="#000" stroke-width="0.3" transform="translate(498.825,254.200) scale(1.0000,1.0000)">0.4</text>
<text x="0" y="0" font-family="Liberation Sans" font-size="18.80" font-weight="normal" stroke="#000" stroke-width="0.3" transform="translate(555.725,254.200) scale(1.0000,1.0000)">0.6</text>
<text x="0" y="0" font-family="Liberation Sans" font-size="18.80" font-weight="normal" stroke="#000" stroke-width="0.3" transform="translate(612.500,254.200) scale(1.0000,1.0000)">0.8</text>
<path transform="translate(677.70,254.20) scale(0.00918,-0.00918)" d="M763,0 L583,0 L583,1102 C540,1063 483,1022 413,983 C343,944 280,914 225,894 L225,1061 C326,1106 414,1161 489,1224 C564,1288 618,1349 649,1409 L763,1409 Z" fill="#000"/>
<text x="0" y="0" font-family="Liberation Sans" font-size="18.80" font-weight="normal" stroke="#000" stroke-width="0.3" transform="translate(499.633,276.404) scale(1.0222,1.0222)">Cycle (T)</text>
<text x="0" y="0" font-family="Liberation Sans" font-size="18.80" font-weight="normal" stroke="#000" stroke-width="0.3" transform="translate(531.736,28.200) scale(1.0110,1.0110)">Pressure (Pa)</text>
<text x="0" y="0" font-family="Liberation Sans" font-size="16.20" font-weight="normal" stroke="#000" stroke-width="0.3" transform="translate(561.198,51.900) scale(1.0014,1.0014)">Right-atria</text>
<text x="0" y="0" font-family="Liberation Sans" font-size="16.20" font-weight="normal" stroke="#000" stroke-width="0.3" transform="translate(561.162,73.100) scale(1.0303,1.0303)">Left-atria</text>
<text x="0" y="0" font-family="Liberation Sans" font-size="16.20" font-weight="normal" stroke="#000" stroke-width="0.3" transform="translate(561.046,95.400) scale(1.0429,1.0429)">Left-ventricle</text>
<text x="0" y="0" font-family="Liberation Sans" font-size="16.20" font-weight="normal" stroke="#000" stroke-width="0.3" transform="translate(561.072,116.600) scale(1.0221,1.0221)">Right-ventricle</text>
<text x="0" y="0" font-family="Liberation Sans" font-size="19.50" font-weight="normal"  transform="translate(421.211,325.600) scale(1.0378,1.0596)">Systole</text>
<text x="0" y="0" font-family="Liberation Sans" font-size="19.50" font-weight="normal"  transform="translate(561.509,325.600) scale(1.0931,1.0596)">Diastole</text>
</svg>
</body></html>
